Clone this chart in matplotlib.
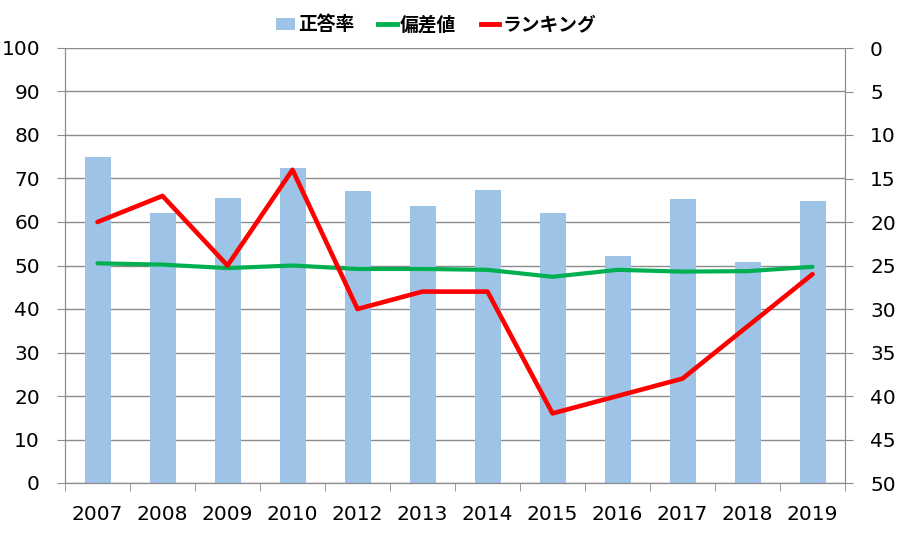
import matplotlib
matplotlib.use("Agg")
import matplotlib.pyplot as plt
from matplotlib.patches import Patch
from matplotlib.lines import Line2D
import numpy as np

years = ["2007", "2008", "2009", "2010", "2012", "2013", "2014", "2015", "2016", "2017", "2018", "2019"]
correct_rate = [75.0, 62.1, 65.5, 72.4, 67.1, 63.7, 67.4, 62.1, 52.2, 65.3, 50.8, 64.8]
deviation = [50.5, 50.2, 49.4, 50.0, 49.2, 49.2, 49.0, 47.4, 49.0, 48.6, 48.7, 49.7]
ranking = [20, 17, 25, 14, 30, 28, 28, 42, 40, 38, 32, 26]
left_ticks = list(range(0, 101, 10))
right_ticks = list(range(0, 51, 5))

plt.rcParams['font.family'] = ['DejaVu Sans', 'Noto Sans CJK JP']

fig = plt.figure(figsize=(9.05, 5.46), dpi=100)
ax = fig.add_axes([65/905, 63/546, 780/905, 435/546])
x = np.arange(len(years))

grid_c = "#8c8c8c"
ax.bar(x, correct_rate, width=0.4, color="#9dc3e6", zorder=2)
ax.plot(x, deviation, color="#00b050", lw=3.0, zorder=3, solid_capstyle="round")
ax.set_ylim(0, 100)
ax.set_xlim(-0.5, len(years) - 0.5)
ax.set_yticks(left_ticks)
ax.yaxis.grid(True, color=grid_c, lw=1.0, zorder=0)
ax.set_axisbelow(True)
ax.set_xticks(x)
ax.set_xticklabels(years)
ax.set_xticks(np.arange(-0.5, len(years), 1), minor=True)
ax.tick_params(axis="x", which="major", length=0, pad=16, labelsize=14.5)
ax.tick_params(axis="x", which="minor", length=6, color=grid_c, direction="out")
ax.tick_params(axis="y", length=6, color=grid_c, labelsize=14.5, pad=12)
for s in ["top"]:
    ax.spines[s].set_visible(False)
for s in ["left", "bottom", "right"]:
    ax.spines[s].set_color(grid_c)

ax2 = ax.twinx()
ax2.plot(x, ranking, color="#ff0000", lw=3.3, zorder=4, solid_capstyle="round")
ax2.set_ylim(50, 0)
ax2.set_yticks(right_ticks)
ax2.tick_params(axis="y", length=6, color=grid_c, labelsize=14.5, pad=12)
for s in ["top"]:
    ax2.spines[s].set_visible(False)
for s in ["left", "bottom", "right"]:
    ax2.spines[s].set_color(grid_c)

handles = [Patch(facecolor="#9dc3e6", edgecolor="none"),
           Line2D([0], [0], color="#00b050", lw=3.5),
           Line2D([0], [0], color="#ff0000", lw=3.5)]
fig.legend(handles, ["正答率", "偏差値", "ランキング"], loc="center", bbox_to_anchor=(436/905, 1 - 25/546),
           ncol=3, frameon=False, prop={"family": ["Noto Sans CJK JP"], "weight": "bold", "size": 13.5},
           handlelength=1.0, handletextpad=0.15, columnspacing=1.3, handleheight=0.6)

fig.savefig("out.png", dpi=100)
